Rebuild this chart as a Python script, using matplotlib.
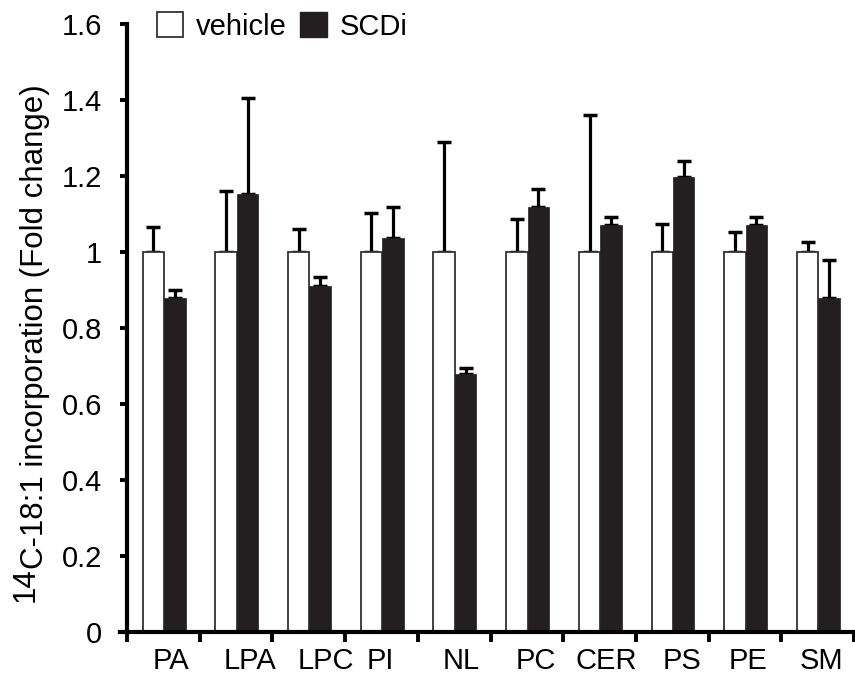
import numpy as np
import matplotlib
matplotlib.use('Agg')
import matplotlib.pyplot as plt
from matplotlib.patches import Patch

plt.rcParams['font.family'] = ['Liberation Sans', 'DejaVu Sans']

# lipid classes and fold changes
lipids = ['PA', 'LPA', 'LPC', 'PI', 'NL', 'PC', 'CER', 'PS', 'PE', 'SM']
vehicle = [1, 1, 1, 1, 1, 1, 1, 1, 1, 1]
vehicle_err = [0.067, 0.161, 0.060, 0.102, 0.289, 0.087, 0.360, 0.073, 0.053, 0.026]
scdi = [0.878, 1.152, 0.911, 1.038, 0.679, 1.118, 1.072, 1.198, 1.072, 0.878]
scdi_err = [0.023, 0.253, 0.023, 0.081, 0.015, 0.048, 0.021, 0.041, 0.021, 0.101]

# label offsets inside each category (the original labels are not centred)
label_off = [0.61, 0.69, 0.73, 0.49, 0.60, 0.62, 0.59, 0.63, 0.54, 0.55]

fs = 21
fig = plt.figure(figsize=(8.55, 6.74), dpi=100)
ax = fig.add_axes([127/855, 42/674, 727/855, 608/674])

n = len(lipids)
x = np.arange(n) + 0.51
w = 0.295
dark = '#231f20'

ax.bar(x - w/2, vehicle, w, color='white', edgecolor='#333333', linewidth=1.3, zorder=2)
ax.bar(x + w/2, scdi, w, color=dark, edgecolor=dark, linewidth=0.5, zorder=2)

# one-sided (upper) error bars
ax.errorbar(x - w/2, vehicle, yerr=[np.zeros(n), vehicle_err], fmt='none',
            ecolor='black', elinewidth=2.3, capsize=4.7, capthick=2.5, zorder=1)
ax.errorbar(x + w/2, scdi, yerr=[np.zeros(n), scdi_err], fmt='none',
            ecolor='black', elinewidth=2.3, capsize=4.7, capthick=2.5, zorder=1)

ax.set_xlim(0, n)
ax.set_ylim(0, 1.6)
ax.set_yticks(np.arange(0, 1.61, 0.2))
ax.set_yticklabels(['0', '0.2', '0.4', '0.6', '0.8', '1', '1.2', '1.4', '1.6'], fontsize=fs)

# category boundaries as tick marks, names in between
ax.set_xticks(np.arange(0, n + 1))
ax.set_xticklabels([])
ax.set_xticks(np.arange(n) + np.array(label_off), minor=True)
ax.set_xticklabels(lipids, minor=True, fontsize=fs)
ax.tick_params(axis='x', which='minor', length=0, pad=11)
ax.tick_params(axis='x', which='major', direction='out', length=7, width=2.8)
ax.tick_params(axis='y', direction='out', length=5, width=2.8, pad=13)

for s in ['top', 'right']:
    ax.spines[s].set_visible(False)
ax.spines['left'].set_linewidth(3)
ax.spines['bottom'].set_linewidth(3)
ax.spines['left'].set_bounds(0, 1.6)
ax.spines['bottom'].set_bounds(-0.1, n)
ax.spines['bottom'].set_clip_on(False)

# y label with a full-size raised "14"
lab = fig.text(35/855, 0.516, 'C-18:1 incorporation (Fold change)', rotation=90,
               ha='center', va='center', fontsize=22.5)
ax.annotate('14', xy=(0, 0), xycoords=lab, xytext=(-7, 1), textcoords='offset points',
            rotation=90, ha='left', va='top', fontsize=22.5)

handles = [Patch(facecolor='white', edgecolor='#333333', linewidth=1.3, label='vehicle'),
           Patch(facecolor=dark, edgecolor=dark, label='SCDi')]
ax.legend(handles=handles, loc='upper left', bbox_to_anchor=(157/855, 1 - 12/674),
          bbox_transform=fig.transFigure, ncol=2, frameon=False, fontsize=fs,
          handlelength=0.9, handleheight=0.95, handletextpad=0.45, columnspacing=0.45,
          borderaxespad=0, borderpad=0)

fig.savefig('out.png', dpi=100)
